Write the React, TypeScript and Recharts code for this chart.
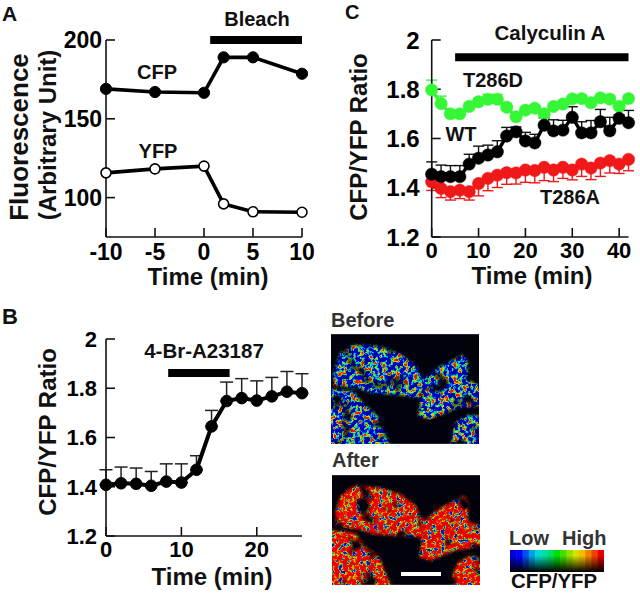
import { ErrorBar, LineChart, Line, XAxis, YAxis, ReferenceLine } from "recharts";

const FONT = '"Liberation Sans", Arial, sans-serif';

// panel A
const timeA = [-10, -5, 0, 2, 5, 10];
const cfpA = [169, 167, 166.5, 189, 189, 178.6];
const yfpA = [115.7, 118.2, 120, 96, 91, 90.7];
const ticksAX = [-10, -5, 0, 5, 10];
const ticksAY = [100, 150, 200];

// panel B
const timeB = [0, 2, 4, 6, 8, 10, 12, 14, 16, 18, 20, 22, 24, 26];
const ratioB = [1.408, 1.414, 1.412, 1.404, 1.421, 1.417, 1.469, 1.645, 1.748, 1.76, 1.75, 1.767, 1.786, 1.78];
const errB = [0.061, 0.066, 0.064, 0.058, 0.072, 0.076, 0.057, 0.065, 0.077, 0.079, 0.08, 0.077, 0.082, 0.079];
const ticksBX = [0, 10, 20];
const ticksRatio = [1.2, 1.4, 1.6, 1.8, 2];

// panel C
const timeC = [0, 2, 4, 6, 8, 10, 12, 14, 16, 18, 20, 22, 24, 26, 28, 30, 32, 34, 36, 38, 40, 42];
const t286d = [1.797, 1.742, 1.7, 1.7, 1.73, 1.749, 1.759, 1.759, 1.727, 1.688, 1.715, 1.723, 1.7, 1.73, 1.74, 1.761, 1.762, 1.745, 1.765, 1.76, 1.73, 1.762];
const t286dErr = [0.04, 0.03, 0.01, 0.01, 0.015, 0.015, 0.02, 0.02, 0.015, 0.015, 0.01, 0.01, 0.01, 0.01, 0.01, 0.01, 0.01, 0.01, 0.01, 0.015, 0.01, 0.01];
const wt = [1.455, 1.445, 1.445, 1.445, 1.496, 1.52, 1.533, 1.546, 1.61, 1.627, 1.59, 1.582, 1.654, 1.631, 1.634, 1.686, 1.623, 1.623, 1.668, 1.631, 1.682, 1.664];
const wtErr = [0.05, 0.047, 0.045, 0.045, 0.04, 0.049, 0.04, 0.045, 0.035, 0.02, 0.035, 0.035, 0.03, 0.045, 0.04, 0.043, 0.045, 0.05, 0.05, 0.055, 0.014, 0.05];
const t286a = [1.424, 1.397, 1.384, 1.39, 1.384, 1.417, 1.438, 1.451, 1.461, 1.46, 1.472, 1.47, 1.483, 1.472, 1.483, 1.472, 1.496, 1.48, 1.5, 1.51, 1.496, 1.515];
const t286aErr = [0.035, 0.037, 0.034, 0.034, 0.034, 0.05, 0.05, 0.05, 0.047, 0.045, 0.05, 0.05, 0.054, 0.047, 0.045, 0.04, 0.05, 0.047, 0.054, 0.05, 0.038, 0.046];
const ticksCX = [0, 10, 20, 30, 40];

// colour scale of the ratio images
const scaleColors = ["#0000d8", "#0000ff", "#0050f0", "#00a0e0", "#00d8d8", "#00e0a0", "#00e060", "#00e000", "#40e000", "#90e000", "#d8e000", "#f0c000", "#f08000", "#f04000", "#e80000"];

const dataA = timeA.map((t, i) => ({ t, cfp: cfpA[i], yfp: yfpA[i] }));
const dataB = timeB.map((t, i) => ({ t, ratio: ratioB[i], bar: [0, errB[i]] }));
const dataC = timeC.map((t, i) => ({
  t,
  d: t286d[i],
  dBar: [0, t286dErr[i]],
  wt: wt[i],
  wtBar: [0, wtErr[i]],
  a: t286a[i],
  aBar: [t286aErr[i], 0],
}));

const tickStyle = { fontSize: 23, fontWeight: 700, fontFamily: FONT, fill: "#000" };
const axisLine = { stroke: "#111", strokeWidth: 1.6 };
const ratioFmt = (v: number) => (v === 2 ? "2" : v.toFixed(1));

function Txt({ x, y, size = 20, rot, anchor = "start", fill = "#111", children }: any) {
  return (
    <text
      x={x}
      y={y}
      fontSize={size}
      fontFamily={FONT}
      fontWeight={700}
      fill={fill}
      textAnchor={anchor}
      transform={rot ? `rotate(${rot} ${x} ${y})` : undefined}
    >
      {children}
    </text>
  );
}

function PanelA() {
  return (
    <div style={{ position: "absolute", left: 0, top: 0 }}>
      <LineChart width={330} height={290} data={dataA} margin={{ top: 40, left: 0, right: 28, bottom: 23 }}>
        <XAxis dataKey="t" type="number" domain={[-10, 10]} ticks={ticksAX} interval={0} height={30} tickSize={-9} tickMargin={16} tick={tickStyle} axisLine={axisLine} tickLine={axisLine} />
        <YAxis type="number" domain={[75, 200]} ticks={ticksAY} interval={0} width={106} tickSize={-9} tickMargin={13} tick={tickStyle} axisLine={axisLine} tickLine={axisLine} />
        <ReferenceLine segment={[{ x: 0.63, y: 200 }, { x: 10, y: 200 }]} stroke="#000" strokeWidth={8} />
        <Line dataKey="cfp" stroke="#000" strokeWidth={3.6} dot={{ r: 5.6, fill: "#000", stroke: "#000", strokeWidth: 1 }} isAnimationActive={false} />
        <Line dataKey="yfp" stroke="#000" strokeWidth={3.6} dot={{ r: 5, fill: "#fff", stroke: "#000", strokeWidth: 1.6 }} isAnimationActive={false} />
      </LineChart>
    </div>
  );
}

function PanelB() {
  return (
    <div style={{ position: "absolute", left: 0, top: 300 }}>
      <LineChart width={320} height={293} data={dataB} margin={{ top: 39, left: 0, right: 18, bottom: 27 }}>
        <XAxis dataKey="t" type="number" domain={[0, 26]} ticks={ticksBX} interval={0} height={30} tickSize={-9} tickMargin={14} tick={{ ...tickStyle, fontSize: 22 }} axisLine={axisLine} tickLine={axisLine} />
        <YAxis type="number" domain={[1.2, 2]} ticks={ticksRatio} interval={0} width={106} tickSize={-9} tickMargin={18} tickFormatter={ratioFmt} tick={{ ...tickStyle, fontSize: 22 }} axisLine={axisLine} tickLine={axisLine} />
        <ReferenceLine segment={[{ x: 8.25, y: 1.862 }, { x: 16.4, y: 1.862 }]} stroke="#000" strokeWidth={8} />
        <Line dataKey="ratio" stroke="#000" strokeWidth={4} dot={{ r: 5.8, fill: "#000", stroke: "#000", strokeWidth: 1 }} isAnimationActive={false}>
          <ErrorBar dataKey="bar" direction="y" width={6.5} stroke="#222" strokeWidth={1.5} isAnimationActive={false} />
        </Line>
      </LineChart>
    </div>
  );
}

function PanelC() {
  return (
    <div style={{ position: "absolute", left: 330, top: 0 }}>
      <LineChart width={310} height={290} data={dataC} margin={{ top: 40, left: 0, right: 11.5, bottom: 23 }}>
        <XAxis dataKey="t" type="number" domain={[0, 42]} ticks={ticksCX} interval={0} height={30} tickSize={-9} tickMargin={14} tick={{ ...tickStyle, fontSize: 22 }} axisLine={axisLine} tickLine={axisLine} />
        <YAxis type="number" domain={[1.2, 2]} ticks={ticksRatio} interval={0} width={101.7} tickSize={-9} tickMargin={21} tickFormatter={ratioFmt} tick={{ ...tickStyle, fontSize: 24 }} axisLine={axisLine} tickLine={axisLine} />
        <ReferenceLine segment={[{ x: 5, y: 1.93 }, { x: 42, y: 1.93 }]} stroke="#000" strokeWidth={8} />
        <Line dataKey="a" stroke="#f01818" strokeWidth={3.4} dot={{ r: 6.2, fill: "#f01818", stroke: "#f01818", strokeWidth: 0.5 }} isAnimationActive={false}>
          <ErrorBar dataKey="aBar" direction="y" width={5.5} stroke="#f01818" strokeWidth={1.4} isAnimationActive={false} />
        </Line>
        <Line dataKey="d" stroke="#36f736" strokeWidth={3.4} dot={{ r: 6.2, fill: "#36f736", stroke: "#36f736", strokeWidth: 0.5 }} isAnimationActive={false}>
          <ErrorBar dataKey="dBar" direction="y" width={5.5} stroke="#36f736" strokeWidth={1.4} isAnimationActive={false} />
        </Line>
        <Line dataKey="wt" stroke="#000" strokeWidth={3.4} dot={{ r: 6.2, fill: "#000", stroke: "#000", strokeWidth: 0.5 }} isAnimationActive={false}>
          <ErrorBar dataKey="wtBar" direction="y" width={5.5} stroke="#111" strokeWidth={1.4} isAnimationActive={false} />
        </Line>
      </LineChart>
    </div>
  );
}

// the two ratio micrographs: noise pushed through a colour table, dimmed in patches, cut to the cell shapes
function Micrograph({ id, x, y, seed, shift, r, g, b }: any) {
  const row = `3.4 0 0 0 ${shift}`;
  return (
    <svg style={{ position: "absolute", left: x, top: y }} width={148} height={110} viewBox="33 103 444 329">
      <defs>
        <filter id={`n${id}`} x="0" y="0" width="100%" height="100%" colorInterpolationFilters="sRGB">
          <feTurbulence type="fractalNoise" baseFrequency="0.075" numOctaves={3} seed={seed} result="fine" />
          <feColorMatrix in="fine" type="matrix" values={`${row}  ${row}  ${row}  0 0 0 0 1`} />
          <feComponentTransfer result="col">
            <feFuncR type="table" tableValues={r} />
            <feFuncG type="table" tableValues={g} />
            <feFuncB type="table" tableValues={b} />
          </feComponentTransfer>
          <feGaussianBlur in="col" stdDeviation="1.6" result="soft" />
          <feTurbulence type="fractalNoise" baseFrequency="0.018" numOctaves={2} seed={seed + 3} />
          <feColorMatrix type="matrix" values="0 0 0 0 0  0 0 0 0 0  0 0 0 0 0  5 0 0 0 -1.2" result="patch" />
          <feComposite in="soft" in2="patch" operator="in" />
        </filter>
        <filter id={`b${id}`}>
          <feGaussianBlur stdDeviation="4" />
        </filter>
        <mask id={`m${id}`}>
          <g fill="#fff" filter={`url(#b${id})`}>
            <polygon points="40,225 60,160 100,135 180,140 240,160 285,195 310,240 300,295 230,285 160,280 110,265 40,255" />
            <polygon points="295,350 300,310 310,240 350,205 430,165 445,190 440,240 490,260 490,315 400,330 330,360" />
            <polygon points="20,265 100,275 130,310 175,350 215,445 20,445" />
            <polygon points="395,400 410,365 445,345 490,350 490,445 395,445" />
          </g>
        </mask>
      </defs>
      <rect x={33} y={103} width={444} height={329} fill="#02020c" />
      <g mask={`url(#m${id})`}>
        <rect x={33} y={103} width={444} height={329} filter={`url(#n${id})`} />
      </g>
    </svg>
  );
}

function ColorScale() {
  return (
    <svg style={{ position: "absolute", left: 510, top: 550 }} width={94} height={22}>
      <defs>
        <linearGradient id="fade" x1="0" y1="0" x2="0" y2="1">
          <stop offset="0.25" stopColor="#000" stopOpacity={0} />
          <stop offset="1" stopColor="#000" stopOpacity={1} />
        </linearGradient>
      </defs>
      {scaleColors.map((c, i) => (
        <rect key={c} x={(i * 94) / scaleColors.length} y={0} width={94 / scaleColors.length + 0.5} height={22} fill={c} />
      ))}
      <rect width={94} height={22} fill="url(#fade)" />
    </svg>
  );
}

export default function App() {
  return (
    <div style={{ position: "absolute", left: 0, top: 0, width: 640, height: 593, background: "#fff", overflow: "hidden" }}>
      <PanelA />
      <PanelB />
      <PanelC />
      <Micrograph id="before" x={331} y={334} seed={4} shift={-1.35} r="0 0 0 0 0.1 0.7 0.95 0.9" g="0 0 0.15 0.75 0.9 0.9 0.7 0.1" b="0.65 1 1 0.8 0.25 0 0 0" />
      <Micrograph id="after" x={331.5} y={475} seed={9} shift={-1.0} r="0 0 0.3 0.85 0.95 0.95 0.95 0.9" g="0.05 0.5 0.85 0.8 0.3 0.05 0.02 0" b="0.85 0.8 0.2 0 0 0 0 0" />
      <div style={{ position: "absolute", left: 401, top: 571.5, width: 40, height: 4, background: "#fff" }} />
      <ColorScale />
      <svg style={{ position: "absolute", left: 0, top: 0 }} width={640} height={593}>
        <Txt x={2} y={21} size={21}>A</Txt>
        <Txt x={2} y={324} size={22}>B</Txt>
        <Txt x={345} y={19} size={20}>C</Txt>

        <Txt x={257} y={26} anchor="middle">Bleach</Txt>
        <Txt x={157} y={79} anchor="middle">CFP</Txt>
        <Txt x={158} y={158} anchor="middle">YFP</Txt>
        <Txt x={28} y={137} size={26} rot={-90} anchor="middle">Fluorescence</Txt>
        <Txt x={56} y={135} size={24} rot={-90} anchor="middle">(Arbitrary Unit)</Txt>
        <Txt x={208} y={285} size={24} anchor="middle">Time (min)</Txt>

        <Txt x={204} y={358} size={20.5} anchor="middle">4-Br-A23187</Txt>
        <Txt x={56} y={432} size={24} rot={-90} anchor="middle">CFP/YFP Ratio</Txt>
        <Txt x={212} y={585} size={24} anchor="middle">Time (min)</Txt>

        <Txt x={550} y={40} size={20.5} anchor="middle">Calyculin A</Txt>
        <Txt x={493} y={87} anchor="middle">T286D</Txt>
        <Txt x={461} y={141} anchor="middle">WT</Txt>
        <Txt x={570} y={204} anchor="middle">T286A</Txt>
        <Txt x={367} y={137} size={24} rot={-90} anchor="middle">CFP/YFP Ratio</Txt>
        <Txt x={532} y={284} size={24} anchor="middle">Time (min)</Txt>

        <Txt x={331} y={327} fill="#333">Before</Txt>
        <Txt x={332} y={467} fill="#333">After</Txt>
        <Txt x={509} y={545} fill="#333">Low</Txt>
        <Txt x={562} y={545} fill="#333">High</Txt>
        <Txt x={511} y={588} size={20.4}>CFP/YFP</Txt>
      </svg>
    </div>
  );
}
